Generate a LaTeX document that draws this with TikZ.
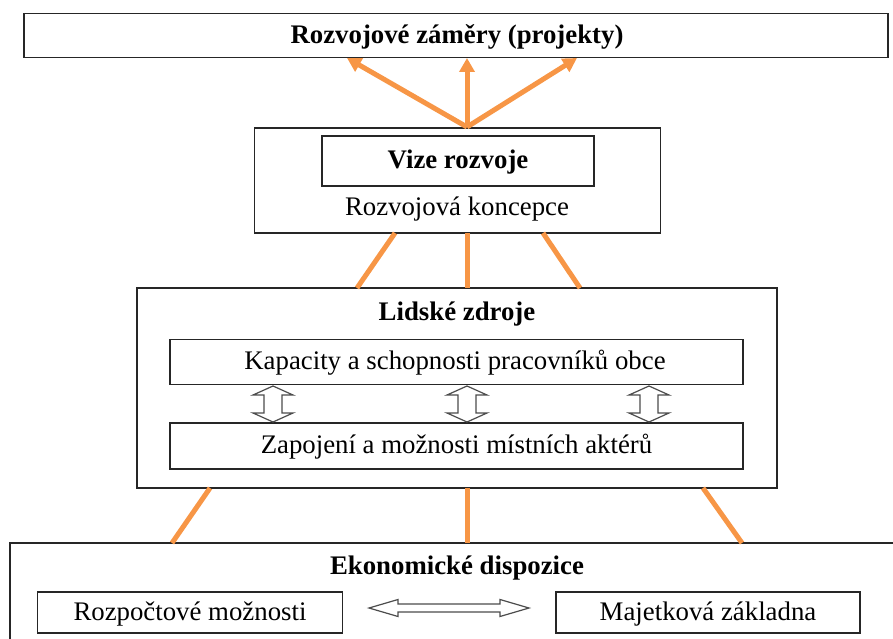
\documentclass[tikz,border=0pt]{standalone}
\usepackage{fontspec}
\setmainfont{Liberation Serif}
\usetikzlibrary{arrows.meta}
\definecolor{orng}{RGB}{247,150,70}
\begin{document}
\begin{tikzpicture}[x=1pt,y=-1pt,
  box/.style={draw=black!85,line width=1.3pt,inner sep=0pt,fill=white},
  txt/.style={font=\fontsize{26.8}{30}\selectfont,inner sep=0pt},
  btxt/.style={font=\fontsize{26.8}{30}\selectfont\bfseries,inner sep=0pt},
  ocon/.style={draw=orng,line width=5pt},
  oarr/.style={draw=orng,line width=5pt,-{Triangle[length=14pt,width=15pt]}},
  dbl/.style={draw=black!70,line width=1.2pt,fill=white,line join=miter}]
\useasboundingbox (0,0) rectangle (893,639);
\clip (0,0) rectangle (893,639);
% top box
\node[box,minimum width=864pt,minimum height=44pt] (top) at (456,35.5) {};
\node[btxt] (toptxt) at (457,37) {Rozvojové záměry (projekty)};
% vision box
\node[box,minimum width=406pt,minimum height=105pt] (vis) at (457.5,180.5) {};
\node[box,minimum width=272pt,minimum height=50pt] (vize) at (458,161) {};
\node[btxt] (vizetxt) at (458,162) {Vize rozvoje};
\node[txt] (konc) at (457,209) {Rozvojová koncepce};
% arrows to top
\coordinate (t1) at (347,58);
\coordinate (t2) at (467,58);
\coordinate (t3) at (577,58);
\coordinate (vtop) at (467,127);
\draw[oarr] (vtop) -- (t1);
\draw[oarr] (vtop) -- (t2);
\draw[oarr] (vtop) -- (t3);
% HR box
\node[box,minimum width=640pt,minimum height=200pt] (hr) at (457,388) {};
\node[btxt] (hrtxt) at (457,314) {Lidské zdroje};
\node[box,minimum width=573pt,minimum height=45pt] (kap) at (456.5,362) {};
\node[txt] (kaptxt) at (455,363) {Kapacity a schopnosti pracovníků obce};
\node[box,minimum width=573pt,minimum height=46pt] (zap) at (456.5,446) {};
\node[txt] (zaptxt) at (456.5,447) {Zapojení a možnosti místních aktérů};
% connectors vision -> HR
\coordinate (a1) at (395,233); \coordinate (b1) at (357,288);
\coordinate (a2) at (467,233); \coordinate (b2) at (467,288);
\coordinate (a3) at (543,233); \coordinate (b3) at (580,288);
\draw[ocon] (a1) -- (b1);
\draw[ocon] (a2) -- (b2);
\draw[ocon] (a3) -- (b3);
% vertical double arrows
\foreach \c/\n in {273/d1,467/d2,649/d3}{
  \draw[dbl] (\c,386) -- (\c+20,395) -- (\c+9,395) -- (\c+9,413) -- (\c+20,413)
    -- (\c,422) -- (\c-20,413) -- (\c-9,413) -- (\c-9,395) -- (\c-20,395) -- cycle;
}
% econ box
\node[box,minimum width=900pt,minimum height=140pt] (eco) at (460,613) {};
\node[btxt] (ecotxt) at (457,568) {Ekonomické dispozice};
\node[box,minimum width=305pt,minimum height=41pt] (rozp) at (190,612.5) {};
\node[txt] (rozptxt) at (190,614) {Rozpočtové možnosti};
\node[box,minimum width=304pt,minimum height=41pt] (maj) at (708,612.5) {};
\node[txt] (majtxt) at (708,614) {Majetková základna};
% connectors HR -> econ
\coordinate (c1) at (210,488); \coordinate (e1) at (172,543);
\coordinate (c2) at (467,488); \coordinate (e2) at (467,543);
\coordinate (c3) at (703,488); \coordinate (e3) at (742,543);
\draw[ocon] (c1) -- (e1);
\draw[ocon] (c2) -- (e2);
\draw[ocon] (c3) -- (e3);
% horizontal double arrow
\draw[dbl] (369,608) -- (398,599.5) -- (398,604) -- (500,604) -- (500,599.5) -- (529,608)
  -- (500,616.5) -- (500,612) -- (398,612) -- (398,616.5) -- cycle;
\end{tikzpicture}
\end{document}
